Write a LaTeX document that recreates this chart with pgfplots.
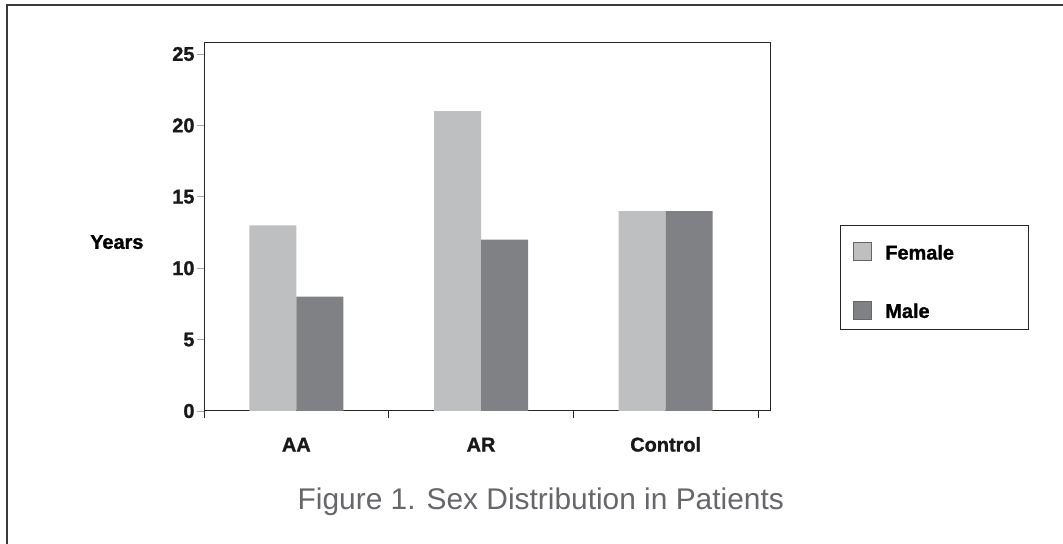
\documentclass[border=0pt]{standalone}
\usepackage{pgfplots}
\pgfplotsset{compat=1.18}
\usepackage{fontspec}
\setmainfont{Liberation Sans}[BoldFeatures={FakeBold=1.2}]
\definecolor{fem}{HTML}{BEBFC1}
\definecolor{mal}{HTML}{808184}
\definecolor{capgray}{HTML}{66676A}
\definecolor{framegray}{HTML}{3A3A3A}
\begin{document}
\begin{tikzpicture}[x=1bp,y=1bp]
\path[use as bounding box] (0,0) rectangle (1063,544);
\draw[framegray, line width=2bp] (7,0) -- (7,539) -- (1063,539);
\begin{axis}[
  at={(204bp,133bp)}, anchor=south west,
  scale only axis, width=566bp, height=368bp,
  xmin=-0.5, xmax=2.565, ymin=0, ymax=25.77,
  ybar=0pt, bar width=47bp,
  axis line style={line width=1bp, black!85},
  xtick={0,1,2}, xticklabels={AA,AR,Control},
  major x tick style={draw=none},
  minor xtick={-0.5,0.5,1.5,2.5},
  minor x tick style={line width=0.8bp, black!85},
  minor tick length=7bp,
  ytick={0,5,10,15,20,25},
  major y tick style={line width=0.6bp, gray!70},
  major tick length=7bp,
  tick align=outside,
  xtick pos=bottom, ytick pos=left,
  /pgf/number format/assume math mode=true,
  ticklabel style={font=\bfseries\fontsize{20}{20}\selectfont, text=black!90},
  xticklabel style={yshift=-16bp, text height=14bp, text depth=0pt},
  yticklabel style={xshift=1bp},
  ylabel={Years},
  ylabel style={rotate=-90, at={(axis description cs:-0.154,0.459)}, anchor=center, font=\bfseries\fontsize{20}{20}\selectfont},
  legend style={at={(1.1237,0.5054)}, anchor=north west, draw=black!85, line width=1bp,
    inner xsep=12bp, inner ysep=10bp, row sep=33bp,
    font=\bfseries\fontsize{20}{20}\selectfont,
    /tikz/every even column/.append style={text width=131bp},
    /tikz/every odd column/.append style={column sep=14bp}},
  legend cell align=left,
  legend image code/.code={\draw[#1, draw=black!60, line width=0.8bp] (0bp,-13bp) rectangle (18bp,5bp);},
  clip=false,
]
\addplot[fill=fem, draw=none] coordinates {(0,13) (1,21) (2,14)};
\addlegendentry[inner sep=0pt, text height=24bp, text depth=0bp]{Female}
\addplot[fill=mal, draw=none] coordinates {(0,8) (1,12) (2,14)};
\addlegendentry[inner sep=0pt, text height=24bp, text depth=0bp]{Male}
\node[font=\fontsize{30}{30}\selectfont, text=capgray] at (axis description cs:0.595,-0.247) {Figure 1. Sex Distribution in Patients};
\end{axis}
\end{tikzpicture}
\end{document}
